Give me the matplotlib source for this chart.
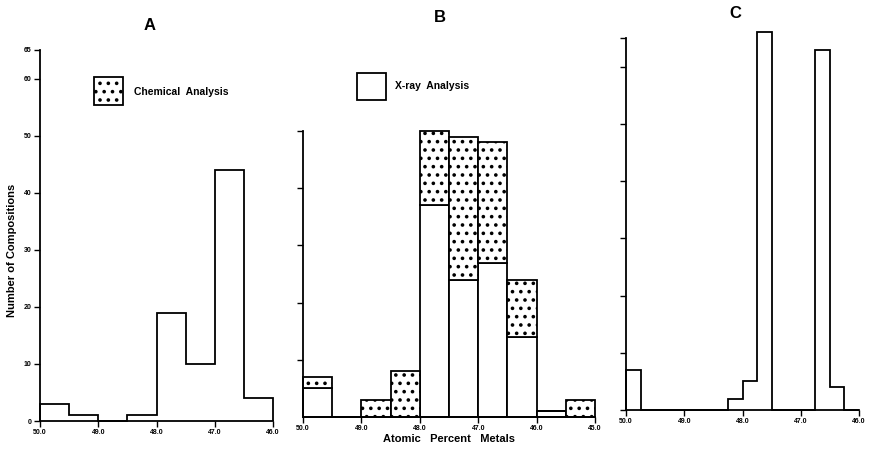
import matplotlib
matplotlib.use("Agg")
import matplotlib.pyplot as plt
from matplotlib.patches import Rectangle

plt.rcParams['font.family'] = ['Liberation Sans', 'DejaVu Sans']
plt.rcParams['hatch.linewidth'] = 1.4

# Panel A: chemical analysis, 0.5 at% bins (left edge of each bin)
a_bins = [50.0, 49.5, 49.0, 48.5, 48.0, 47.5, 47.0, 46.5]
a_counts = [3, 1, 0, 1, 19, 10, 44, 4]

# Panel B: x-ray and chemical analysis stacked, 0.5 at% bins
b_bins = [50.0, 49.5, 49.0, 48.5, 48.0, 47.5, 47.0, 46.5, 46.0, 45.5]
b_xray = [5, 0, 0, 0, 37, 24, 27, 14, 1, 0]
b_chem = [2, 0, 3, 8, 13, 25, 21, 10, 0, 3]

# Panel C: 0.25 at% bins
c_bins = [50.0, 49.75, 49.5, 49.25, 49.0, 48.75, 48.5, 48.25,
          48.0, 47.75, 47.5, 47.25, 47.0, 46.75, 46.5, 46.25]
c_counts = [7, 0, 0, 0, 0, 0, 0, 2, 5, 66, 0, 0, 0, 63, 4, 0]

x_ticks = [50.0, 49.0, 48.0, 47.0, 46.0]
b_x_ticks = [50.0, 49.0, 48.0, 47.0, 46.0, 45.0]
a_y_ticks = [0, 10, 20, 30, 40, 50, 60, 65]

W, H = 872, 458
LW = 1.3


def rect(x0, y0, x1, y1):
    # pixel box (top-left origin) -> figure fraction rect
    return [x0 / W, 1 - y1 / H, (x1 - x0) / W, (y1 - y0) / H]


def style_axes(ax, xticks, yticks, ylabels, ytop):
    for s in ['top', 'right']:
        ax.spines[s].set_visible(False)
    for s in ['left', 'bottom']:
        ax.spines[s].set_linewidth(LW)
    ax.spines['left'].set_bounds(0, ytop)
    ax.set_xticks(xticks)
    ax.set_xticklabels(["%.1f" % t for t in xticks], fontsize=5, fontweight='bold')
    ax.set_yticks(yticks)
    if ylabels:
        ax.set_yticklabels([str(t) for t in yticks], fontsize=5, fontweight='bold')
    else:
        ax.set_yticklabels([])
    ax.tick_params(direction='out', length=4, width=1, pad=2)


def step_hist(ax, bins, counts, width):
    edges = list(bins) + [bins[-1] - width]
    ax.stairs(counts[::-1], edges[::-1], color='black', linewidth=LW,
              baseline=0, fill=False, clip_on=False)


fig = plt.figure(figsize=(W / 100, H / 100), dpi=100)

# A
axA = fig.add_axes(rect(40, 50, 273, 421))
step_hist(axA, a_bins, a_counts, 0.5)
axA.set_xlim(50.0, 46.0)
axA.set_ylim(0, 65)
style_axes(axA, x_ticks, a_y_ticks, True, 65)

# B
axB = fig.add_axes(rect(303, 417 - 52 * 5.72, 595, 417))
b_centers = [b - 0.25 for b in b_bins]
axB.bar(b_centers, b_xray, width=0.5, facecolor='white', edgecolor='black',
        linewidth=LW, clip_on=False)
axB.bar(b_centers, b_chem, width=0.5, bottom=b_xray, facecolor='white',
        edgecolor='black', hatch='..', linewidth=LW, clip_on=False)
axB.set_xlim(50.0, 45.0)
axB.set_ylim(0, 52)
style_axes(axB, b_x_ticks, [10, 20, 30, 40, 50], False, 50)

# C
axC = fig.add_axes(rect(626, 410 - 67 * 5.72, 859, 410))
step_hist(axC, c_bins, c_counts, 0.25)
axC.set_xlim(50.0, 46.0)
axC.set_ylim(0, 67)
style_axes(axC, x_ticks, a_y_ticks, False, 65)

# panel letters
for lab, px, py in [("A", 150, 25), ("B", 440, 18), ("C", 735, 14)]:
    fig.text(px / W, 1 - py / H, lab, fontsize=12, fontweight='bold',
             ha='center', va='center')

# legend keys
fig.patches.append(Rectangle((94 / W, 1 - 105 / H), 29 / W, 28 / H,
                             transform=fig.transFigure, facecolor='white',
                             edgecolor='black', hatch='..', linewidth=LW))
fig.text(134 / W, 1 - 92 / H, "Chemical  Analysis", fontsize=7.5,
         fontweight='bold', va='center')
fig.patches.append(Rectangle((357 / W, 1 - 100 / H), 29 / W, 27 / H,
                             transform=fig.transFigure, facecolor='white',
                             edgecolor='black', linewidth=LW))
fig.text(395 / W, 1 - 86 / H, "X-ray  Analysis", fontsize=7.5,
         fontweight='bold', va='center')

fig.text(449 / W, 1 - 439 / H, "Atomic   Percent   Metals", fontsize=8,
         fontweight='bold', ha='center', va='center')
fig.text(12 / W, 1 - 250 / H, "Number of Compositions", fontsize=8,
         fontweight='bold', rotation=90, ha='center', va='center')

fig.savefig("out.png", dpi=100)
